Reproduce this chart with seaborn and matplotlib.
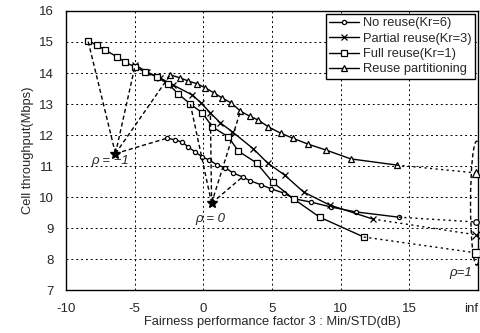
import numpy as np
import pandas as pd
import matplotlib
matplotlib.use("Agg")
import matplotlib.pyplot as plt
from matplotlib.patches import Ellipse
import seaborn as sns

# -----------------------------
# DATA
# -----------------------------
INF_X = 20  # position used for the "inf" tick

no_x = [-2.63, -2.04, -1.53, -1.09, -0.58, -0.07, 0.44, 1.02, 1.61, 2.19, 2.85,
        3.43, 4.23, 4.96, 5.84, 6.64, 7.81, 9.27, 11.09, 14.23]
no_y = [11.90, 11.84, 11.77, 11.61, 11.45, 11.29, 11.19, 11.03, 10.94, 10.77, 10.65,
        10.52, 10.39, 10.26, 10.13, 9.94, 9.84, 9.68, 9.52, 9.35]

part_x = [-4.96, -4.09, -3.14, -2.19, -0.80, -0.15, 0.51, 1.24, 2.12, 3.65, 4.67,
          5.91, 7.30, 9.20, 12.34]
part_y = [14.26, 14.03, 13.84, 13.61, 13.29, 13.03, 12.71, 12.39, 12.10, 11.55, 11.10,
          10.71, 10.16, 9.74, 9.29]

full_x = [-8.39, -7.74, -7.15, -6.28, -5.69, -4.96, -4.23, -3.36, -2.55, -1.82, -0.95,
          -0.07, 0.66, 1.82, 2.55, 3.87, 5.04, 6.57, 8.47, 11.68]
full_y = [15.03, 14.90, 14.74, 14.52, 14.35, 14.19, 14.03, 13.87, 13.65, 13.32, 13.00,
          12.71, 12.26, 11.94, 11.48, 11.10, 10.48, 9.94, 9.35, 8.71]

rp_x = [-2.41, -1.68, -1.09, -0.44, 0.15, 0.80, 1.39, 2.04, 2.70, 3.36, 4.01, 4.74,
        5.62, 6.50, 7.59, 8.90, 10.73, 14.09]
rp_y = [13.94, 13.84, 13.74, 13.65, 13.52, 13.35, 13.19, 13.03, 12.77, 12.61, 12.48,
        12.26, 12.06, 11.90, 11.71, 11.52, 11.23, 11.03]

# values at rho = 1 (plotted at "inf")
inf_no, inf_part, inf_full, inf_rp = 9.19, 8.77, 8.19, 10.77

# annotation hubs
rho_m1 = (-6.4, 11.4)
rho_0 = (0.6, 9.8)
rho0_idx = {"no": 10, "part": 6, "full": 10, "rp": 8}

x_ticks = [-10, -5, 0, 5, 10, 15, INF_X]
x_ticklabels = ["-10", "-5", "0", "5", "10", "15", "inf"]
y_ticks = [7, 8, 9, 10, 11, 12, 13, 14, 15, 16]

# -----------------------------
# STYLE
# -----------------------------
sns.set_style("white")
plt.rcParams["font.family"] = ["Liberation Sans", "DejaVu Sans"]

fig = plt.figure(figsize=(4.8, 3.33), dpi=100)
ax = fig.add_axes([0.1375, 0.129, 0.8585, 0.838])

series = [
    ("No reuse(Kr=6)", no_x, no_y, "o", 3, inf_no),
    ("Partial reuse(Kr=3)", part_x, part_y, "x", 4.5, inf_part),
    ("Full reuse(Kr=1)", full_x, full_y, "s", 4.5, inf_full),
    ("Reuse partitioning", rp_x, rp_y, "^", 5, inf_rp),
]

for label, xs, ys, mk, ms, yinf in series:
    df = pd.DataFrame({"x": xs, "y": ys})
    sns.lineplot(data=df, x="x", y="y", ax=ax, sort=False, color="black", lw=1,
                 marker=mk, markersize=ms, markerfacecolor="white",
                 markeredgecolor="black", markeredgewidth=0.9, label=label)
    # dotted link to the rho = 1 value
    ax.plot([xs[-1], INF_X], [ys[-1], yinf], ls=(0, (1.5, 2.5)), color="black", lw=1)
    ax.plot([INF_X - 0.15], [yinf], marker=mk, ms=ms + 1, mfc="white", mec="black",
            mew=0.9, clip_on=False, zorder=5)

# rho = -1 links (first point of each curve)
for xs, ys in [(full_x, full_y), (part_x, part_y), (rp_x, rp_y), (no_x, no_y)]:
    ax.plot([rho_m1[0], xs[0]], [rho_m1[1], ys[0]], ls=(0, (3, 2)), color="black", lw=1)
ax.plot([rho_m1[0]], [rho_m1[1]], marker="*", ms=8, color="black")

# rho = 0 links
for key, xs, ys in [("full", full_x, full_y), ("part", part_x, part_y),
                    ("rp", rp_x, rp_y), ("no", no_x, no_y)]:
    i = rho0_idx[key]
    ax.plot([rho_0[0], xs[i]], [rho_0[1], ys[i]], ls=(0, (3, 2)), color="black", lw=1)
ax.plot([rho_0[0]], [rho_0[1]], marker="*", ms=8, color="black")

# rho = 1 oval at inf
ax.add_patch(Ellipse((INF_X - 0.1, 9.8), 0.9, 4.0, fill=False, ls=(0, (3, 2)),
                     lw=1, color="black"))

ax.text(-6.8, 11.15, "ρ = −1", fontsize=9.5, style="italic", ha="center", va="center")
ax.text(0.5, 9.3, "ρ = 0", fontsize=9.5, style="italic", ha="center", va="center")
ax.text(18.7, 7.55, "ρ=1", fontsize=9.5, style="italic", ha="center", va="center")

# -----------------------------
# AXES
# -----------------------------
ax.set_xlim(-10, INF_X)
ax.set_ylim(7, 16)
ax.set_xticks(x_ticks)
ax.set_xticklabels(x_ticklabels)
ax.set_yticks(y_ticks)
ax.tick_params(direction="in", length=3, labelsize=9.5, color="black")
ax.tick_params(axis="x", pad=9)
ax.tick_params(axis="y", pad=9)
ax.get_xticklabels()[-1].set_ha("right")
ax.grid(True, ls=(0, (2, 3)), color="black", lw=0.7)
for s in ax.spines.values():
    s.set_color("black")
    s.set_linewidth(1)

ax.set_xlabel("Fairness performance factor 3 : Min/STD(dB)", fontsize=9.3, labelpad=1)
ax.set_ylabel("Cell throughput(Mbps)", fontsize=9.3, labelpad=3)

leg = ax.legend(loc="upper right", fontsize=9.3, frameon=True, fancybox=False,
                edgecolor="black", framealpha=1, handlelength=2.3,
                borderpad=0.3, labelspacing=0.25, handletextpad=0.3,
                borderaxespad=0.2)
leg.get_frame().set_linewidth(1)

plt.savefig("out.png", dpi=100)
plt.close()
